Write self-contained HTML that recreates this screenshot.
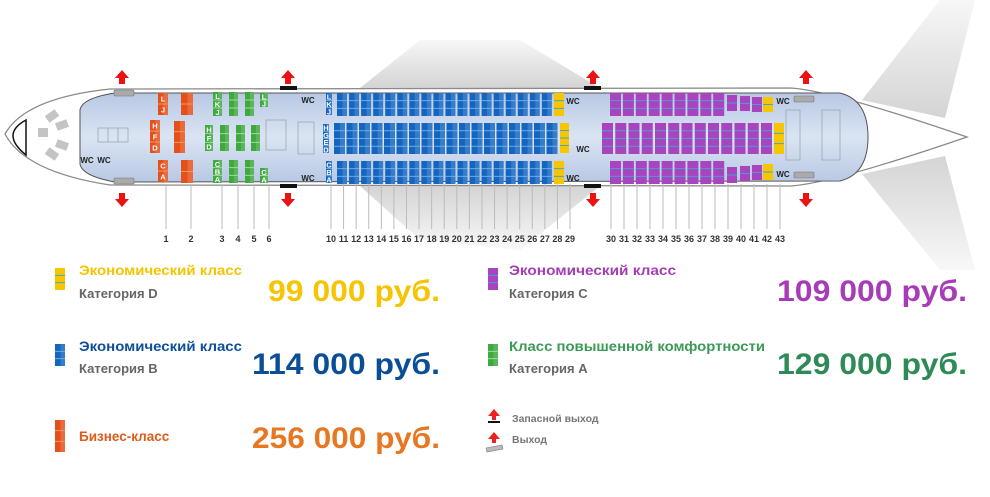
<!DOCTYPE html>
<html><head><meta charset="utf-8">
<style>
html,body{margin:0;padding:0;background:#fff;}
svg{display:block;}
text{font-family:"Liberation Sans",sans-serif;}
</style></head>
<body>
<svg id="s" width="990" height="497" viewBox="0 0 990 497" xmlns="http://www.w3.org/2000/svg">
<defs>
<linearGradient id="wingU" x1="0" y1="1" x2="0" y2="0"><stop offset="0" stop-color="#d4d4d4"/><stop offset="1" stop-color="#f7f7f7"/></linearGradient>
<linearGradient id="wingD" x1="0" y1="0" x2="0" y2="1"><stop offset="0" stop-color="#d4d4d4"/><stop offset="1" stop-color="#f8f8f8"/></linearGradient>
<linearGradient id="cab" x1="0" y1="0" x2="0" y2="1"><stop offset="0" stop-color="#b8c8e4"/><stop offset="0.5" stop-color="#dae4f3"/><stop offset="1" stop-color="#b8c8e4"/></linearGradient>
</defs>
<path d="M360,88 L420,40 L520,40 L600,88 Z" fill="url(#wingU)"/>
<path d="M360,186 L420,240 L520,250 L600,186 Z" fill="url(#wingD)"/>
<path d="M862,100 L940,0 L975,0 L945,118 Z" fill="url(#wingU)"/>
<path d="M862,174 L940,270 L975,270 L945,156 Z" fill="url(#wingD)"/>
<path d="M5,134 Q25,98 110,89 L790,88 Q830,90 967,137 Q830,184 790,186 L110,185 Q25,172 5,134 Z" fill="#fff" stroke="#8a8a8a" stroke-width="1.3"/>
<path d="M26,120 Q0,134 26,155 Z" fill="#fff" stroke="#111" stroke-width="1.5"/>
<path d="M80,110 Q82,98 115,93 L840,93 Q868,100 868,137 Q868,174 840,181 L115,182 Q82,176 80,164 Z" fill="url(#cab)" stroke="#555" stroke-width="1"/>
<g fill="#c4c4c4">
<rect x="46" y="112" width="12" height="8" transform="rotate(-35 52 116)"/>
<rect x="56" y="121" width="12" height="8" transform="rotate(-20 62 125)"/>
<rect x="38" y="128" width="10" height="9"/>
<rect x="56" y="141" width="12" height="8" transform="rotate(20 62 145)"/>
<rect x="46" y="150" width="12" height="8" transform="rotate(35 52 154)"/>
</g>
<g fill="none" stroke="#9aa" stroke-width="0.8">
<rect x="98" y="128" width="30" height="14"/><line x1="108" y1="128" x2="108" y2="142"/><line x1="118" y1="128" x2="118" y2="142"/>
<rect x="266" y="120" width="20" height="30"/><rect x="298" y="122" width="16" height="32"/>
<rect x="786" y="110" width="14" height="50"/><rect x="822" y="110" width="18" height="50"/>
</g>
<g fill="#aaa" stroke="#777" stroke-width="0.6">
<rect x="114" y="90" width="20" height="6" rx="1"/><rect x="114" y="178" width="20" height="6" rx="1"/>
<rect x="794" y="96" width="20" height="6" rx="1"/><rect x="794" y="172" width="20" height="6" rx="1"/>
</g>
<g fill="#111">
<rect x="280" y="86" width="17" height="4"/><rect x="280" y="184" width="17" height="4"/>
<rect x="584" y="86" width="17" height="4"/><rect x="584" y="184" width="17" height="4"/>
</g>
<g id="g"></g>
<g font-weight="bold">
<text x="79" y="275" font-size="13.5" fill="#f5c400" textLength="163" lengthAdjust="spacingAndGlyphs">Экономический класс</text>
<text x="79" y="298" font-size="13" fill="#666">Категория D</text>
<text x="268" y="301" font-size="30" fill="#f6c400" textLength="172" lengthAdjust="spacingAndGlyphs">99 000 руб.</text>
<text x="79" y="351" font-size="13.5" fill="#0d4f9a" textLength="163" lengthAdjust="spacingAndGlyphs">Экономический класс</text>
<text x="79" y="373" font-size="13" fill="#666">Категория B</text>
<text x="252" y="374" font-size="30" fill="#0a4f96" textLength="188" lengthAdjust="spacingAndGlyphs">114 000 руб.</text>
<text x="79" y="441" font-size="13.5" fill="#e05a18">Бизнес-класс</text>
<text x="252" y="448" font-size="30" fill="#e87722" textLength="188" lengthAdjust="spacingAndGlyphs">256 000 руб.</text>
<text x="509" y="275" font-size="13.5" fill="#a43db5" textLength="167" lengthAdjust="spacingAndGlyphs">Экономический класс</text>
<text x="509" y="298" font-size="13" fill="#666">Категория C</text>
<text x="777" y="301" font-size="30" fill="#a73bb8" textLength="190" lengthAdjust="spacingAndGlyphs">109 000 руб.</text>
<text x="509" y="351" font-size="13.5" fill="#3a9a56" textLength="256" lengthAdjust="spacingAndGlyphs">Класс повышенной комфортности</text>
<text x="509" y="373" font-size="13" fill="#666">Категория A</text>
<text x="777" y="374" font-size="30" fill="#2e8b57" textLength="190" lengthAdjust="spacingAndGlyphs">129 000 руб.</text>
<text x="512" y="422" font-size="10.5" fill="#777">Запасной выход</text>
<text x="512" y="443" font-size="10.5" fill="#777">Выход</text>
</g>
<polygon points="494,409 488,416 492,416 492,420 496,420 496,416 500,416" fill="#e22"/>
<rect x="488" y="421" width="12" height="2" fill="#111"/>
<polygon points="494,432 488,439 492,439 492,443 496,443 496,439 500,439" fill="#e22"/>
<path d="M486,448 L502,445 L503,449 L487,452 Z" fill="#bbb" stroke="#777" stroke-width="0.6"/>
</svg>
<script>
var g=document.getElementById('g'),NS='http://www.w3.org/2000/svg';
function el(t,a,txt){var e=document.createElementNS(NS,t);for(var k in a)e.setAttribute(k,a[k]);if(txt!=null)e.textContent=txt;g.appendChild(e);return e;}
var C={b:['#1565c0','#6fb3ee'],p:['#a944bf','#3fa5d8'],g:['#3fa83f','#a8e0a0'],o:['#e5501a','#f7a060'],y:['#f7c600','#3aa0d8']};
function seat(x,y,w,h,n,c,letters){
 var col=C[c];el('rect',{x:x,y:y,width:w,height:h,fill:col[0]});
 if(c=='b'||c=='g'||c=='o')el('rect',{x:x+w*0.55,y:y,width:w*0.45,height:h,fill:'#fff',opacity:0.15});
 for(var i=1;i<n;i++)el('line',{x1:x,x2:x+w,y1:y+h*i/n,y2:y+h*i/n,stroke:col[1],'stroke-width':0.9});
 if(letters)for(var i=0;i<n;i++)el('text',{x:x+w/2,y:y+h*(i+0.5)/n+3,'font-size':7.5,'font-weight':'bold',fill:'#fff','text-anchor':'middle'},letters[i]);
}
seat(158,93,10,22,2,'o','LJ');seat(150,120,10,33,3,'o','HFD');seat(158,160,10,22,2,'o','CA');
seat(181,93,12,22,2,'o');seat(174,121,11,32,3,'o');seat(181,160,12,23,2,'o');
seat(213,92,9,24,3,'g','LKJ');seat(229,92,9,24,3,'g');seat(245,92,9,24,3,'g');seat(260,93,8,14,2,'g','LJ');
seat(205,125,8,26,3,'g','HFD');seat(220,125,9,26,3,'g');seat(236,125,9,26,3,'g');seat(251,125,9,26,3,'g');
seat(213,160,9,23,3,'g','CBA');seat(229,160,9,23,3,'g');seat(245,160,9,23,3,'g');seat(260,168,8,15,2,'g','CA');
seat(326,93,6,22,3,'b','LKJ');seat(323,124,6,29,4,'b','HGED');seat(326,161,6,22,3,'b','CBA');
for(var i=0;i<18;i++){seat(337+i*12.05,93,10,23,3,'b');seat(334+i*12.5,123,11,31,4,'b');seat(337+i*12.05,161,10,23,3,'b');}
seat(554,93,10,23,3,'y');seat(560,123,9,30,4,'y');seat(554,161,10,23,3,'y');
for(var i=0;i<9;i++){seat(610+i*12.9,93,11,23,3,'p');seat(610+i*12.9,161,11,23,3,'p');}
for(var i=0;i<13;i++)seat(602+i*13.25,123,11,31,4,'p');
seat(727,95,10,16,2,'p');seat(740,96,10,15,2,'p');seat(752,97,10,15,2,'p');seat(763,97,10,15,2,'y');
seat(727,167,10,16,2,'p');seat(740,166,10,15,2,'p');seat(752,165,10,15,2,'p');seat(763,164,10,16,2,'y');
seat(774,123,10,31,3,'y');
[[87,163],[104,163],[308,103],[308,181],[573,104],[583,152],[573,181],[783,104],[783,177]].forEach(function(p){el('text',{x:p[0],y:p[1],'font-size':8,'font-weight':'bold',fill:'#222','text-anchor':'middle'},'WC');});
var rows=[[1,166],[2,191],[3,222],[4,238],[5,254],[6,269]];
for(var i=10;i<=29;i++)rows.push([i,331+(i-10)*12.58]);
for(var i=30;i<=43;i++)rows.push([i,611+(i-30)*13]);
rows.forEach(function(r){el('line',{x1:r[1],x2:r[1],y1:184,y2:229,stroke:'#bbb','stroke-width':1});
 el('text',{x:r[1],y:242,'font-size':9,'font-weight':'bold',fill:'#333','text-anchor':'middle'},String(r[0]));});
[122,288,593,806].forEach(function(x){
 el('polygon',{points:(x)+',70 '+(x-7)+',78 '+(x-3)+',78 '+(x-3)+',84 '+(x+3)+',84 '+(x+3)+',78 '+(x+7)+',78',fill:'#e11'});
 el('polygon',{points:(x)+',207 '+(x-7)+',199 '+(x-3)+',199 '+(x-3)+',193 '+(x+3)+',193 '+(x+3)+',199 '+(x+7)+',199',fill:'#e11'});
});
function icon(x,y,c,n,h){seat(x,y,10,h,n,c);}
icon(55,268,'y',3,22);icon(55,344,'b',3,22);icon(488,268,'p',3,22);icon(488,344,'g',3,22);icon(55,420,'o',3,32);
</script>
</body></html>
